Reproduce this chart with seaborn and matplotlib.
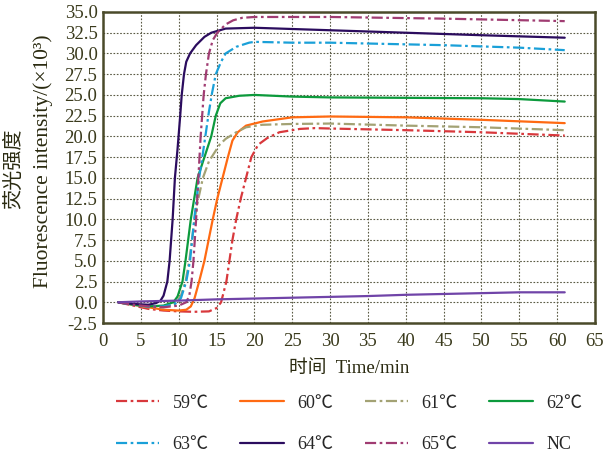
import numpy as np
import pandas as pd
import matplotlib
matplotlib.use("Agg")
import matplotlib.pyplot as plt
import seaborn as sns

# --- data ---
t_59 = [2, 4, 6, 8, 10, 12, 14, 15, 15.6, 16.3, 16.7, 17.1, 17.6, 18.2, 18.9, 19.6, 20.5, 21.7, 23.3, 26, 28, 30, 40, 50, 61]
v_59 = [0, -0.4, -0.8, -1.0, -1.1, -1.15, -1.1, -0.7, 0, 2.5, 5, 7.5, 10, 12.5, 15, 17.5, 19, 19.8, 20.5, 20.9, 21.0, 20.95, 20.75, 20.5, 20.1]

t_60 = [2, 4, 6, 8, 10, 11, 11.6, 12.1, 12.7, 13.4, 14.5, 15.1, 15.8, 16.5, 17.1, 17.8, 18.9, 21.1, 25, 30, 40, 50, 61]
v_60 = [0, -0.3, -0.6, -0.9, -1.0, -0.9, -0.5, 0.5, 2.5, 5, 10, 12.5, 15, 17.5, 19.5, 20.5, 21.3, 21.8, 22.3, 22.4, 22.3, 22.0, 21.6]

t_61 = [2, 4, 6, 8, 9.5, 10.3, 10.9, 11.4, 12.1, 12.6, 13.2, 14.0, 14.7, 15.4, 16.2, 17.6, 18.9, 21, 25, 30, 40, 50, 61]
v_61 = [0, -0.3, -0.6, -0.6, -0.2, 0.8, 2.5, 5, 10, 12.5, 15, 17, 18, 19, 19.7, 20.5, 21.1, 21.4, 21.5, 21.55, 21.3, 21.1, 20.75]

t_62 = [2, 4, 6, 8, 9.3, 9.85, 10.5, 10.9, 11.6, 12.5, 13.4, 14.3, 14.9, 15.5, 16.2, 18, 20, 25, 30, 50, 55, 61]
v_62 = [0, -0.3, -0.5, -0.4, 0, 0.7, 2.5, 5, 10, 15, 17.5, 20, 22.5, 24, 24.6, 24.9, 25.0, 24.8, 24.7, 24.6, 24.5, 24.2]

t_63 = [2, 4, 6, 8, 9.5, 10.3, 11.0, 11.5, 12.05, 12.7, 13.2, 13.6, 14.0, 14.4, 14.9, 15.6, 16.2, 17.6, 19.3, 20, 25, 30, 45, 55, 61]
v_63 = [0, -0.3, -0.5, -0.5, -0.2, 0.5, 2.5, 5, 10, 15, 18, 20.5, 23, 25.2, 27.5, 29, 30, 30.8, 31.3, 31.4, 31.3, 31.3, 31.0, 30.7, 30.4]

t_64 = [2, 4, 6, 7, 7.6, 8.0, 8.5, 8.8, 9.2, 9.5, 9.85, 10.2, 10.4, 10.7, 11.0, 11.5, 12.3, 13.4, 14.3, 16.2, 20, 30, 40, 50, 61]
v_64 = [0, -0.2, -0.3, -0.1, 0.2, 0.8, 2.5, 5, 10, 15, 18.5, 22.5, 25, 27.5, 29, 30, 31, 32, 32.5, 33, 33.1, 32.8, 32.5, 32.2, 31.9]

t_65 = [2, 4, 6, 8, 10, 11, 11.4, 11.7, 11.95, 12.3, 12.6, 12.9, 13.3, 13.6, 14.0, 14.5, 15.1, 16.2, 17.2, 18.4, 20, 30, 45, 61]
v_65 = [0, -0.3, -0.5, -0.6, -0.4, 0, 0.8, 2.5, 5, 10, 15, 20, 25, 27.5, 30, 31.6, 32.5, 33.5, 34.0, 34.3, 34.4, 34.4, 34.2, 33.9]

t_nc = [2, 5, 10, 15, 20, 25, 30, 35, 40, 45, 50, 55, 61]
v_nc = [0, 0.1, 0.2, 0.35, 0.45, 0.55, 0.65, 0.75, 0.9, 1.0, 1.1, 1.2, 1.2]

series_names = ["59℃", "60℃", "61℃", "62℃", "63℃", "64℃", "65℃", "NC"]
series_t = [t_59, t_60, t_61, t_62, t_63, t_64, t_65, t_nc]
series_v = [v_59, v_60, v_61, v_62, v_63, v_64, v_65, v_nc]

colors = ["#d8383c", "#ff6a12", "#a3a274", "#0c9a3c", "#1aa0d8", "#2b0c5e", "#a03c72", "#7044a8"]
dashdot = (5, 1.6, 1.2, 1.6)
styles = [dashdot, "", dashdot, "", dashdot, "", dashdot, ""]

x_ticks = list(range(0, 70, 5))
y_ticks = [-2.5, 0.0, 2.5, 5.0, 7.5, 10.0, 12.5, 15.0, 17.5, 20.0, 22.5, 25.0, 27.5, 30.0, 32.5, 35.0]

# --- long table ---
frames = []
for name, t, v in zip(series_names, series_t, series_v):
    frames.append(pd.DataFrame({"time": t, "value": v, "temp": name}))
df = pd.concat(frames, ignore_index=True)

# --- style ---
sns.set_style("white")
plt.rcParams["font.family"] = ["Liberation Serif", "Noto Sans CJK SC", "DejaVu Sans"]
plt.rcParams["axes.unicode_minus"] = False

fig = plt.figure(figsize=(6.04, 4.57), dpi=100)
ax = fig.add_axes([103 / 604, 1 - 323 / 457, 492 / 604, 311 / 457])

sns.lineplot(data=df, x="time", y="value", hue="temp", style="temp",
             palette=dict(zip(series_names, colors)),
             dashes=dict(zip(series_names, styles)),
             estimator=None, sort=False, linewidth=1.6, ax=ax, legend=True)

ax.set_xlim(0, 65)
ax.set_ylim(-2.5, 35)
ax.set_xticks(x_ticks)
ax.set_yticks(y_ticks)
ax.set_yticklabels([f"{y:.1f}" for y in y_ticks])

olive = "#4a4a2a"
ax.grid(True, color="#5a5a44", linestyle=(0, (1.5, 1.5)), linewidth=0.8)
ax.set_axisbelow(True)
for s in ax.spines.values():
    s.set_color(olive)
    s.set_linewidth(1.8)
ax.tick_params(axis="both", length=0, labelsize=13.5, labelcolor="#3a3a1c")
ax.tick_params(axis="x", pad=7)
ax.tick_params(axis="y", pad=4)

txt = "#2a2a10"
ax.set_xlabel("时间  Time/min", fontsize=13.5, color=txt)
ax.xaxis.set_label_coords(0.5, -0.145)
ax.xaxis.label.set_va("center")
ax.set_ylabel("Fluorescence intensity/(×10³)", fontsize=15.5, color=txt)
ax.yaxis.set_label_coords(-0.122, 0.519)
ax.yaxis.label.set_va("center")
ax.text(-0.179, 0.495, "荧光强度", transform=ax.transAxes, rotation=90,
        ha="center", va="center", fontsize=14.5, color=txt)

# legend filled row by row (matplotlib fills columns first)
handles, labels = ax.get_legend_handles_labels()
ax.get_legend().remove()
order = [0, 4, 1, 5, 2, 6, 3, 7]
fig.legend([handles[i] for i in order], [labels[i] for i in order], ncol=4, loc="center",
           bbox_to_anchor=(349 / 604, 1 - 424 / 457), frameon=False, fontsize=13,
           handlelength=2.4, handletextpad=0.75, columnspacing=1.75, labelspacing=1.35)

fig.savefig("out.png", dpi=100)
